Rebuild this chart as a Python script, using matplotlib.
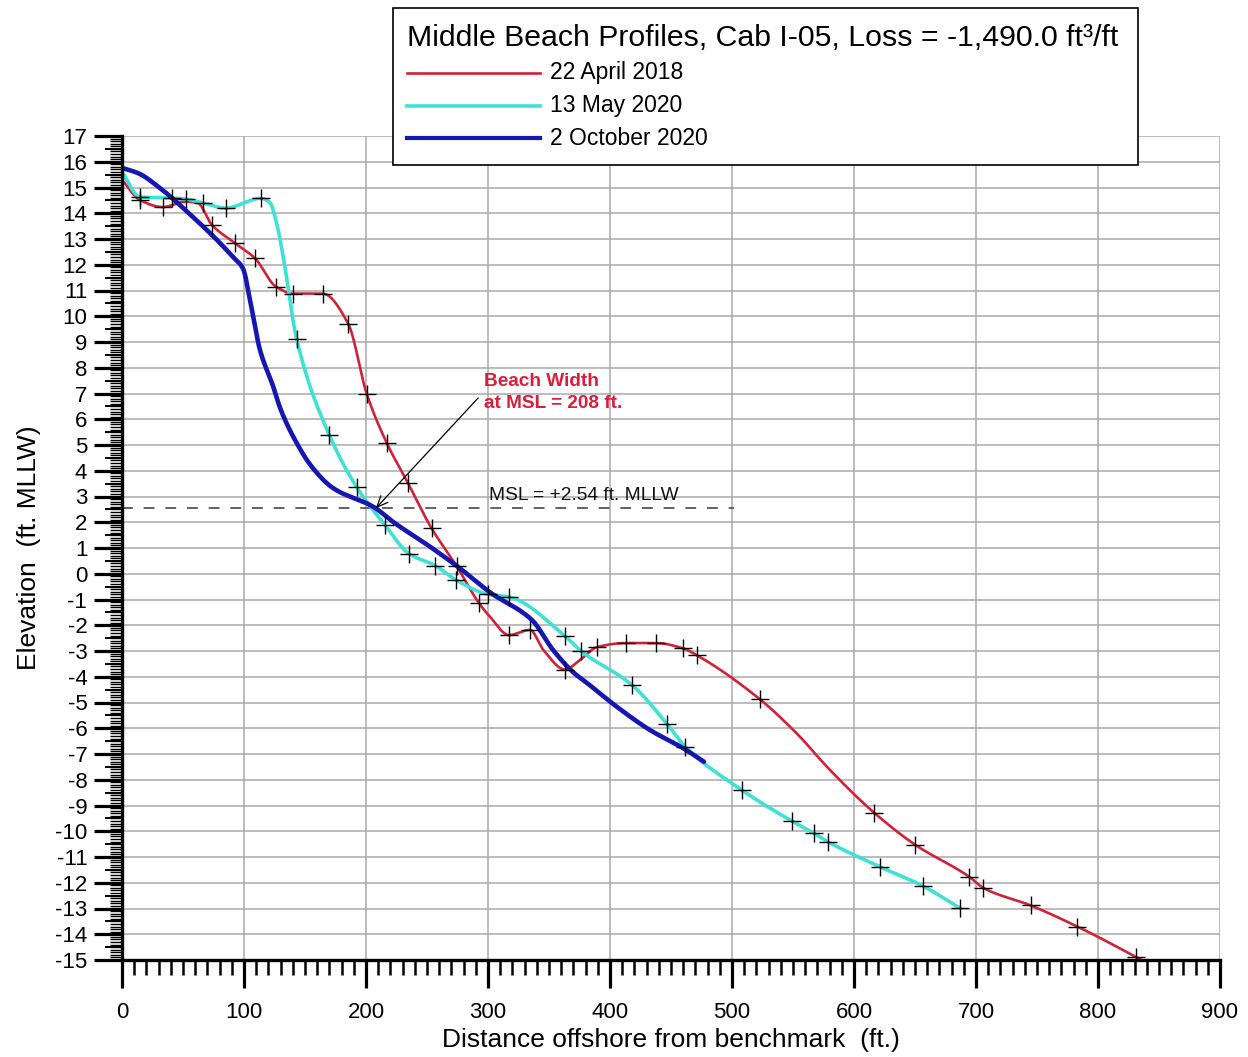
import numpy as np
import matplotlib
matplotlib.use("Agg")
import matplotlib.pyplot as plt
from matplotlib.lines import Line2D
from matplotlib.patches import Rectangle
from matplotlib.ticker import MultipleLocator

plt.rcParams["font.family"] = ["Liberation Sans", "DejaVu Sans"]

# ---- survey profiles: distance offshore (ft) and elevation (ft MLLW) ----
# line vertices for each survey
apr2018_x = [0, 14.8, 33.6, 52, 62, 73.8, 92.6, 109, 126.2, 140.4, 164.4, 185.5,
             200.5, 216.9, 234.2, 253.8, 274.3, 292.6, 301.6, 317.2, 334.4, 345.4,
             363.1, 375.4, 389.3, 413.1, 437.7, 460.1, 471, 523, 553, 580.3, 616.5,
             650, 694.5, 706, 744.8, 783, 831, 870]
apr2018_y = [15.3, 14.51, 14.24, 14.45, 14.4, 13.54, 12.84, 12.25, 11.15, 10.88, 10.88, 9.7,
             7.0, 5.09, 3.54, 1.76, 0.3, -1.14, -1.67, -2.38, -2.18, -2.96,
             -3.72, -3.35, -2.85, -2.69, -2.69, -2.9, -3.16, -4.88, -6.2, -7.62, -9.28,
             -10.52, -11.77, -12.2, -12.88, -13.7, -14.88, -15.9]
# surveyed points (crosses)
apr2018_mx = [14.8, 33.6, 73.8, 92.6, 109, 126.2, 140.4, 164.4, 185.5, 200.5, 216.9,
              234.2, 253.8, 274.3, 292.6, 317.2, 334.4, 363.1, 389.3, 413.1, 437.7,
              460.1, 471, 523, 616.5, 650, 694.5, 706, 744.8, 783, 831]
apr2018_my = [14.51, 14.24, 13.54, 12.84, 12.25, 11.15, 10.88, 10.88, 9.7, 7.0, 5.09,
              3.54, 1.76, 0.3, -1.14, -2.38, -2.18, -3.72, -2.85, -2.69, -2.69,
              -2.9, -3.16, -4.88, -9.28, -10.52, -11.77, -12.2, -12.88, -13.7, -14.88]

may2020_x = [0, 14.8, 41, 52.5, 66.4, 85.2, 113.7, 121.1, 126.8, 132.2, 143.2, 169.9,
             192.4, 215.6, 235.5, 256.6, 273.8, 300, 317, 363.1, 376.2, 418, 446.7,
             461.5, 508, 548.9, 567.2, 579, 621.3, 656.3, 687]
may2020_y = [15.6, 14.63, 14.59, 14.55, 14.4, 14.2, 14.58, 14.42, 13.6, 12.3, 9.1, 5.39,
             3.36, 1.89, 0.77, 0.32, -0.24, -0.8, -0.9, -2.42, -3.0, -4.32, -5.83,
             -6.71, -8.4, -9.6, -10.08, -10.42, -11.38, -12.12, -12.99]
may2020_mx = [14.8, 41, 52.5, 66.4, 85.2, 113.7, 143.2, 169.9, 192.4, 215.6, 235.5,
              256.6, 273.8, 300, 317, 363.1, 376.2, 418, 446.7, 461.5, 508, 548.9,
              567.2, 579, 621.3, 656.3, 687]
may2020_my = [14.63, 14.59, 14.55, 14.4, 14.2, 14.58, 9.1, 5.39, 3.36, 1.89, 0.77,
              0.32, -0.24, -0.8, -0.9, -2.42, -3.0, -4.32, -5.83, -6.71, -8.4, -9.6,
              -10.08, -10.42, -11.38, -12.12, -12.99]

oct2020_x = [0, 13.1, 31.1, 58.2, 77.9, 91, 99.2, 104.9, 113.1, 124, 129.5, 140.4,
             155.5, 173.2, 206, 223.8, 252.5, 277, 301.6, 336.1, 353.3, 369.7, 381.1,
             405.7, 432.8, 459.8, 477]
oct2020_y = [15.76, 15.56, 14.98, 13.85, 12.96, 12.3, 11.85, 10.63, 8.69, 7.26, 6.45,
             5.32, 4.16, 3.32, 2.6, 1.96, 1.05, 0.21, -0.72, -1.8, -2.96, -3.82, -4.24,
             -5.17, -6.07, -6.77, -7.3]

labels = ["22 April 2018", "13 May 2020", "2 October 2020"]
colors = ["#cf2238", "#3fe0d6", "#1616b0"]
widths = [1.9, 2.6, 3.3]

msl = 2.54
msl_end = 502
beach_width = 208
title = "Middle Beach Profiles, Cab I-05, Loss = -1,490.0 ft\u00b3/ft"


def pchip(x, y, n=30):
    """Shape-preserving piecewise cubic through the vertices."""
    x = np.asarray(x, float)
    y = np.asarray(y, float)
    h = np.diff(x)
    d = np.diff(y) / h
    m = np.zeros_like(y)
    for k in range(1, len(x) - 1):
        if d[k - 1] * d[k] > 0:
            w1 = 2 * h[k] + h[k - 1]
            w2 = h[k] + 2 * h[k - 1]
            m[k] = (w1 + w2) / (w1 / d[k - 1] + w2 / d[k])
    m[0] = d[0]
    m[-1] = d[-1]
    xs, ys = [], []
    for k in range(len(x) - 1):
        t = np.linspace(0, 1, n, endpoint=False)
        h00 = 2 * t**3 - 3 * t**2 + 1
        h10 = t**3 - 2 * t**2 + t
        h01 = -2 * t**3 + 3 * t**2
        h11 = t**3 - t**2
        xs.append(x[k] + t * h[k])
        ys.append(h00 * y[k] + h10 * h[k] * m[k] + h01 * y[k + 1] + h11 * h[k] * m[k + 1])
    xs.append([x[-1]])
    ys.append([y[-1]])
    return np.concatenate(xs), np.concatenate(ys)


W, H = 1248, 1057
fig = plt.figure(figsize=(W / 100, H / 100), dpi=100)
ax = fig.add_axes([122 / W, 1 - 960 / H, (1220 - 122) / W, (960 - 136) / H])

ax.set_xlim(0, 900)
ax.set_ylim(-15, 17)

# grid
ax.xaxis.set_major_locator(MultipleLocator(100))
ax.xaxis.set_minor_locator(MultipleLocator(10))
ax.yaxis.set_major_locator(MultipleLocator(1))
ax.yaxis.set_minor_locator(MultipleLocator(0.1))
ax.grid(True, which="major", color="#aaaaaa", lw=1.1, zorder=0)
ax.set_axisbelow(True)

for s in ("top", "right"):
    ax.spines[s].set_visible(False)
for s in ("left", "bottom"):
    ax.spines[s].set_linewidth(2.4)
    ax.spines[s].set_color("black")
    ax.spines[s].set_zorder(6)

ax.tick_params(axis="both", which="major", direction="out", length=20, width=2.3,
               labelsize=16, color="black")
ax.tick_params(axis="x", which="major", pad=10)
ax.tick_params(axis="y", which="major", pad=5)
ax.tick_params(axis="x", which="minor", direction="out", length=11, width=1.8)
ax.tick_params(axis="y", which="minor", direction="out", length=8.5, width=1.0)

# half-foot ticks on the elevation axis
sec = ax.secondary_yaxis("left")
sec.set_yticks(np.arange(-14.5, 17, 1.0))
sec.set_yticklabels([])
sec.tick_params(axis="y", length=12.5, width=1.4, direction="out")
sec.spines["left"].set_visible(False)

ax.set_xticks(np.arange(0, 901, 100))
ax.set_xticklabels([str(v) for v in range(0, 901, 100)])
ax.set_yticks(np.arange(-15, 18, 1))
ax.set_yticklabels([str(v) for v in range(-15, 18)])

ax.set_xlabel("Distance offshore from benchmark  (ft.)", fontsize=19, labelpad=4)
ax.set_ylabel("Elevation  (ft. MLLW)", fontsize=19, labelpad=10)

# MSL reference line
ax.plot([0, msl_end], [msl, msl], color="#555555", lw=1.3, dashes=(6, 6), zorder=2)
ax.text(301, msl + 0.5, "MSL = +2.54 ft. MLLW", fontsize=13.8, ha="left", va="center",
        color="#111111", zorder=7)

# profiles
series = [(apr2018_x, apr2018_y), (may2020_x, may2020_y), (oct2020_x, oct2020_y)]
for (sx, sy), c, lw, z in zip(series, colors, widths, (3, 4, 5)):
    px, py = pchip(sx, sy)
    ax.plot(px, py, color=c, lw=lw, solid_capstyle="round", zorder=z)

for mx, my in ((apr2018_mx, apr2018_my), (may2020_mx, may2020_my)):
    ax.plot(mx, my, ls="none", marker="+", ms=13, mew=1.0, color="black", zorder=8)

# beach width annotation
ax.annotate("", xy=(beach_width, msl), xytext=(292, 6.83),
            arrowprops=dict(arrowstyle="->,head_length=0.8,head_width=0.35",
                            color="black", lw=0.9, shrinkA=0, shrinkB=0), zorder=9)
ax.text(297, 7.45, "Beach Width", fontsize=13.7, fontweight="bold", color="#d81e3c",
        ha="left", va="center", zorder=9)
ax.text(297, 6.63, "at MSL = 208 ft.", fontsize=13.7, fontweight="bold", color="#d81e3c",
        ha="left", va="center", zorder=9)

# legend box
fig.add_artist(Rectangle((393 / W, 1 - 165 / H), (1138 - 393) / W, (165 - 8) / H,
                         transform=fig.transFigure, facecolor="white", edgecolor="black",
                         lw=1.2, zorder=10))
fig.text(407 / W, 1 - 38 / H, title, fontsize=21.8, ha="left", va="center", zorder=11)
for i, (lab, c) in enumerate(zip(labels, colors)):
    yy = 1 - (73 + 32.5 * i) / H
    fig.add_artist(Line2D([407 / W, 540 / W], [yy, yy], transform=fig.transFigure,
                          color=c, lw=[1.9, 2.6, 3.0][i], zorder=11))
    fig.text(550 / W, yy, lab, fontsize=16.5, ha="left", va="center", zorder=11)

fig.savefig("out.png", dpi=100)
